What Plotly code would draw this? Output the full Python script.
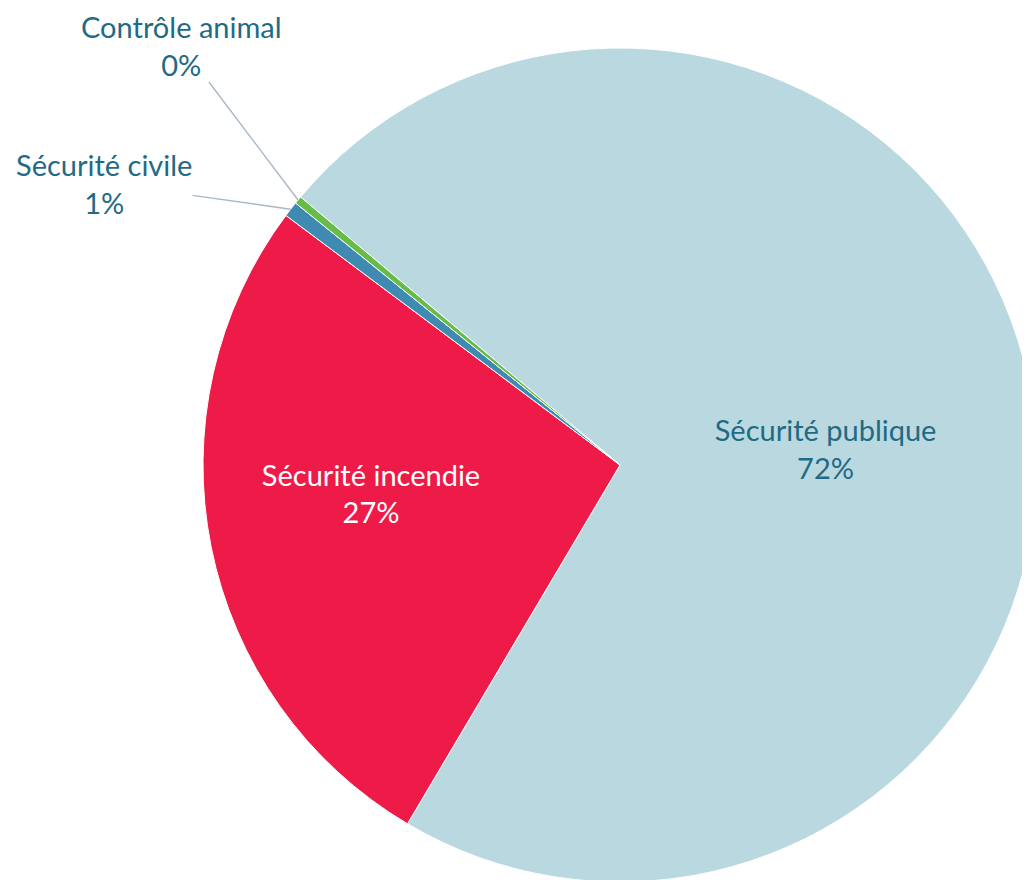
import math
import plotly.graph_objects as go

labels = ["Sécurité publique", "Sécurité incendie", "Sécurité civile", "Contrôle animal"]
values = [72.4, 26.7, 0.6, 0.3]
colors = ["#B9D8E0", "#EE1A47", "#3E8AB0", "#67BB47"]
text_colors = ["#1F6B85", "#FFFFFF", "#1F6B85", "#1F6B85"]

W, H = 1030, 880
FONT = "Lato"
FSIZE = 29
ROT = 310

# pie box (figure pixels): centre (612, 457), radius 417
dom_x = [195 / W, 1029 / W]
dom_y = [6 / H, 840 / H]

NB = "\u00a0"
EN = "\u2002"
templates = [
    NB + "<br>%{label}<br>%{percent:.0%}",
    "%{label}" + EN * 2 + "<br>%{percent:.0%}" + EN * 2 + "<br>" + NB,
    "",
    "",
]

fig = go.Figure(go.Pie(
    labels=labels,
    values=values,
    sort=False,
    direction="clockwise",
    rotation=ROT,
    marker=dict(colors=colors, line=dict(color="white", width=1)),
    texttemplate=templates,
    textposition=["inside", "inside", "none", "none"],
    insidetextorientation="horizontal",
    insidetextfont=dict(family=FONT, size=FSIZE, color=text_colors),
    hoverinfo="skip",
    showlegend=False,
    domain=dict(x=dom_x, y=dom_y),
))

# geometry of the pie (derived from domain) for outside label leaders
bw = (dom_x[1] - dom_x[0]) * W
bh = (dom_y[1] - dom_y[0]) * H
r = min(bw, bh) / 2
cx = (dom_x[0] + dom_x[1]) / 2 * W
cy = H - (dom_y[0] + dom_y[1]) / 2 * H

total = sum(values)
start = ROT
angles = []
for v in values:
    span = v / total * 360
    angles.append(start + span / 2)
    start += span

# label block centres (figure pixels)
label_pos = {2: (96, 175), 3: (173, 37)}
for i, (tx, ty) in label_pos.items():
    th = math.radians(angles[i])
    px = cx + r * math.sin(th)
    py = cy - r * math.cos(th)
    pct = round(values[i] / total * 100)
    fig.add_annotation(
        x=px / W, y=1 - py / H, xref="paper", yref="paper",
        text=f"{labels[i]}<br>{pct}%",
        showarrow=True, arrowhead=0, arrowwidth=1.4, arrowcolor="#A9B8C6",
        ax=tx - px, ay=ty - py, axref="pixel", ayref="pixel",
        font=dict(family=FONT, size=FSIZE, color=text_colors[i]),
        align="center", borderpad=0,
    )

fig.update_layout(
    width=W, height=H,
    margin=dict(l=0, r=0, t=0, b=0),
    paper_bgcolor="white",
    plot_bgcolor="white",
)

fig.write_html("out.html")
